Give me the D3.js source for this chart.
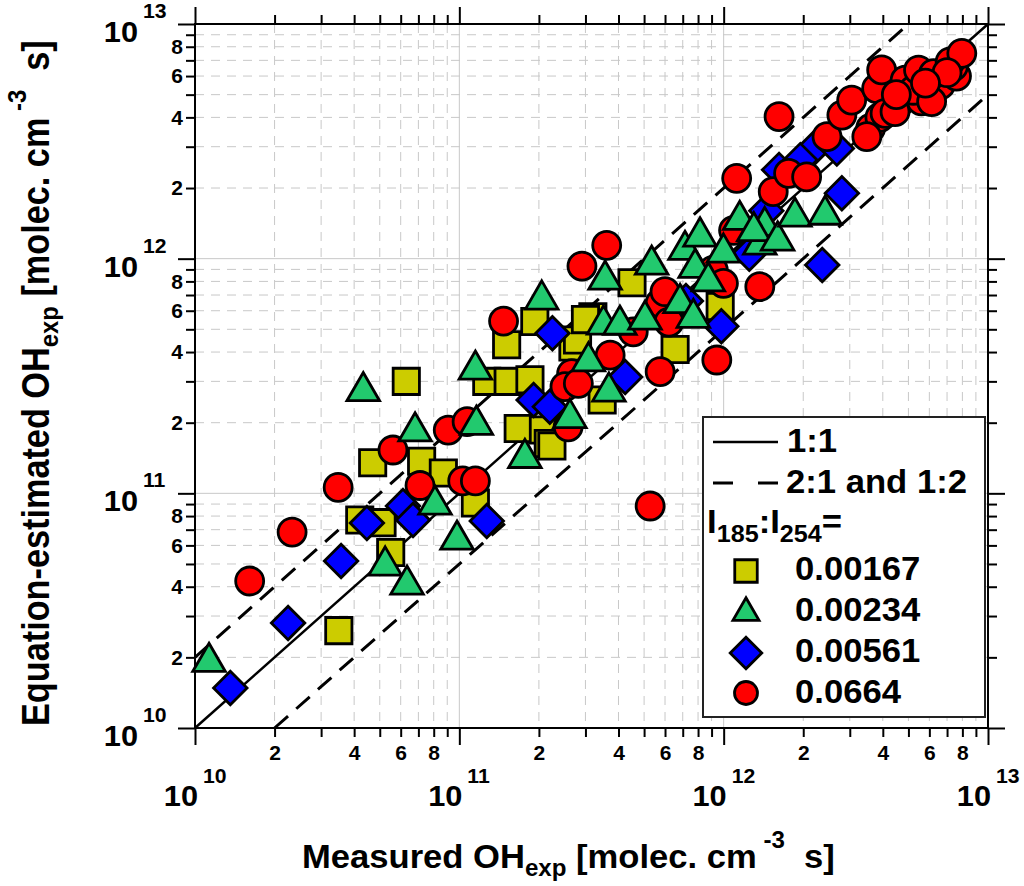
<!DOCTYPE html>
<html>
<head>
<meta charset="utf-8">
<script src="https://cdn.jsdelivr.net/npm/d3@7"></script>
<style>
  body { margin: 0; background: #fff; }
  text { font-family: "Liberation Sans", Arial, sans-serif; font-weight: bold; fill: #000; white-space: pre; }
</style>
</head>
<body>
<div id="chart"></div>
<script>
// Data: [measured OHexp, equation-estimated OHexp], one array per I185:I254 ratio
const seriesLabels = ["0.00167", "0.00234", "0.00561", "0.0664"];

const squareData = [
  [3.5e10, 2.6e10], [4.2e10, 7.7e10], [5.1e10, 7.5e10], [5.5e10, 5.6e10],
  [4.7e10, 1.35e11], [7.2e10, 1.37e11], [8.7e10, 1.22e11], [1.15e11, 9.1e10],
  [6.3e10, 3.0e11], [1.27e11, 3.0e11], [1.53e11, 3.0e11], [1.85e11, 3.05e11],
  [1.51e11, 4.3e11], [1.93e11, 5.4e11], [1.67e11, 1.89e11], [2.08e11, 1.86e11],
  [2.17e11, 1.63e11], [2.24e11, 1.59e11], [2.69e11, 4.2e11], [3.2e11, 5.65e11],
  [2.8e11, 4.5e11], [3.0e11, 5.5e11], [3.47e11, 2.5e11], [4.5e11, 7.9e11],
  [6.55e11, 4.1e11], [9.7e11, 6.25e11]
];

const triangleData = [
  [1.13e10, 2.0e10], [4.33e10, 2.85e11], [5.24e10, 5.15e10], [6.34e10, 4.27e10],
  [6.8e10, 1.92e11], [8.09e10, 9.36e10], [9.8e10, 6.64e10], [1.15e11, 3.52e11],
  [1.16e11, 2.05e11], [1.77e11, 1.48e11], [2.05e11, 7.0e11], [2.62e11, 2.19e11],
  [3.08e11, 3.82e11], [3.68e11, 2.84e11], [3.51e11, 5.48e11], [4.05e11, 5.47e11],
  [3.56e11, 8.51e11], [5.04e11, 5.75e11], [5.34e11, 9.86e11], [6.84e11, 6.77e11],
  [7.68e11, 5.85e11], [7.14e11, 1.14e12], [8.14e11, 1.3e12], [7.8e11, 9.55e11],
  [8.75e11, 8.37e11], [9.98e11, 1.11e12], [1.15e12, 1.53e12], [1.37e12, 1.2e12],
  [1.43e12, 1.44e12], [1.3e12, 1.37e12], [1.6e12, 1.25e12], [1.86e12, 1.58e12],
  [2.42e12, 1.61e12]
];

const diamondData = [
  [1.36e10, 1.48e10], [2.25e10, 2.8e10], [3.57e10, 5.15e10], [4.47e10, 7.47e10],
  [6.12e10, 8.83e10], [6.68e10, 7.7e10], [1.27e11, 7.62e10], [1.91e11, 2.5e11],
  [2.2e11, 2.34e11], [2.25e11, 4.81e11], [4.24e11, 3.13e11], [9.8e11, 5.15e11],
  [7.2e11, 6.6e11], [1.25e12, 1.05e12], [1.45e12, 1.6e12], [2.36e12, 9.4e11],
  [2.8e12, 1.9e12], [2.19e12, 2.95e12], [2.68e12, 2.95e12], [1.62e12, 2.39e12],
  [1.95e12, 2.63e12]
];

const circleData = [
  [1.61e10, 4.23e10], [2.33e10, 6.84e10], [3.48e10, 1.06e11], [5.61e10, 1.53e11],
  [7.1e10, 1.08e11], [1.03e11, 1.13e11], [1.15e11, 1.13e11], [9.08e10, 1.86e11],
  [1.07e11, 2.02e11], [1.47e11, 5.42e11], [2.58e11, 1.92e11], [2.66e11, 3.24e11],
  [2.51e11, 2.85e11], [2.82e11, 2.94e11], [2.91e11, 9.3e11], [3.61e11, 1.14e12],
  [3.72e11, 3.88e11], [4.55e11, 4.88e11], [5.27e11, 8.83e10], [5.75e11, 3.3e11],
  [5.75e11, 6.47e11], [6.0e11, 7.23e11], [6.21e11, 5.37e11], [9.14e11, 8.94e11],
  [9.42e11, 3.7e11], [9.98e11, 7.85e11], [1.09e12, 1.32e12], [1.12e12, 2.2e12],
  [1.37e12, 7.6e11], [1.54e12, 1.93e12], [1.76e12, 2.31e12], [2.06e12, 2.23e12],
  [1.62e12, 4.03e12], [2.46e12, 3.31e12], [2.8e12, 4.09e12], [3.05e12, 4.74e12],
  [3.6e12, 3.6e12], [3.9e12, 4.0e12], [4.3e12, 4.8e12], [4.6e12, 4.6e12],
  [5.6e12, 4.7e12], [6.6e12, 5.5e12], [7.6e12, 6.0e12], [7.4e12, 6.6e12],
  [3.48e12, 3.31e12], [3.79e12, 5.31e12], [3.96e12, 6.37e12], [4.08e12, 4.16e12],
  [4.45e12, 4.23e12], [4.86e12, 5.77e12], [5.22e12, 5.22e12], [5.46e12, 6.36e12],
  [6.12e12, 4.67e12], [6.22e12, 6.15e12], [7.19e12, 6.9e12], [7.96e12, 7.5e12],
  [7.0e12, 6.2e12], [5.8e12, 5.6e12], [4.5e12, 5.0e12]
];

// reference lines y = ratio * x
const ratioLines = [1, 2, 0.5];
const axisDomain = [1e10, 1e13];
const decades = [10, 11, 12, 13];
const labelledMantissas = [2, 4, 6, 8];

// Set up the SVG
const width = 1024;
const height = 886;
const plot = { left: 195, right: 988, top: 24, bottom: 728 };

const svg = d3.select("#chart")
  .append("svg")
  .attr("width", width)
  .attr("height", height);

// Scales
const x = d3.scaleLog().domain(axisDomain).range([plot.left, plot.right]);
const y = d3.scaleLog().domain(axisDomain).range([plot.bottom, plot.top]);

const isDecade = d => Math.abs(Math.log10(d) - Math.round(Math.log10(d))) < 1e-9;
const mantissa = d => Math.round(d / Math.pow(10, Math.floor(Math.log10(d) + 1e-9)));
const allTicks = x.ticks();
const majorTicks = allTicks.filter(isDecade);
const minorTicks = allTicks.filter(d => !isDecade(d));

// Grid
const grid = svg.append("g").attr("stroke", "#c8c8c8").attr("stroke-width", 1);
grid.selectAll(".vmin").data(minorTicks).join("line")
  .attr("x1", d => x(d)).attr("x2", d => x(d))
  .attr("y1", plot.top).attr("y2", plot.bottom)
  .attr("stroke-dasharray", "9,7");
grid.selectAll(".hmin").data(minorTicks).join("line")
  .attr("y1", d => y(d)).attr("y2", d => y(d))
  .attr("x1", plot.left).attr("x2", plot.right)
  .attr("stroke-dasharray", "9,7");
grid.selectAll(".vmaj").data(majorTicks).join("line")
  .attr("x1", d => x(d)).attr("x2", d => x(d))
  .attr("y1", plot.top).attr("y2", plot.bottom);
grid.selectAll(".hmaj").data(majorTicks).join("line")
  .attr("y1", d => y(d)).attr("y2", d => y(d))
  .attr("x1", plot.left).attr("x2", plot.right);

// Axes (ticks outward on all four sides)
const minorFmt = d => labelledMantissas.includes(mantissa(d)) ? mantissa(d) : "";

function styleAxis(g) {
  g.select(".domain").remove();
  g.selectAll("line").attr("stroke", "#000").attr("stroke-width", 2);
  g.selectAll("text").attr("font-size", 21).attr("fill", "#000")
    .style("font-family", "'Liberation Sans', Arial, sans-serif").style("font-weight", "bold");
}

svg.append("g").attr("transform", `translate(0,${plot.bottom})`)
  .call(d3.axisBottom(x).tickValues(minorTicks).tickSize(9).tickPadding(8).tickFormat(minorFmt).tickSizeOuter(0))
  .call(styleAxis);
svg.append("g").attr("transform", `translate(0,${plot.bottom})`)
  .call(d3.axisBottom(x).tickValues(majorTicks).tickSize(17).tickFormat("").tickSizeOuter(0))
  .call(styleAxis);
svg.append("g").attr("transform", `translate(${plot.left},0)`)
  .call(d3.axisLeft(y).tickValues(minorTicks).tickSize(9).tickPadding(3).tickFormat(minorFmt).tickSizeOuter(0))
  .call(styleAxis);
svg.append("g").attr("transform", `translate(${plot.left},0)`)
  .call(d3.axisLeft(y).tickValues(majorTicks).tickSize(17).tickFormat("").tickSizeOuter(0))
  .call(styleAxis);
svg.append("g").attr("transform", `translate(0,${plot.top})`)
  .call(d3.axisTop(x).tickValues(minorTicks).tickSize(9).tickFormat("").tickSizeOuter(0))
  .call(styleAxis);
svg.append("g").attr("transform", `translate(0,${plot.top})`)
  .call(d3.axisTop(x).tickValues(majorTicks).tickSize(17).tickFormat("").tickSizeOuter(0))
  .call(styleAxis);
svg.append("g").attr("transform", `translate(${plot.right},0)`)
  .call(d3.axisRight(y).tickValues(minorTicks).tickSize(9).tickFormat("").tickSizeOuter(0))
  .call(styleAxis);
svg.append("g").attr("transform", `translate(${plot.right},0)`)
  .call(d3.axisRight(y).tickValues(majorTicks).tickSize(17).tickFormat("").tickSizeOuter(0))
  .call(styleAxis);

// Decade labels 10^n
decades.forEach(n => {
  const v = Math.pow(10, n);
  // bottom
  svg.append("text").attr("transform", `translate(${x(v) + 3},806) scale(1.06,1)`)
    .attr("text-anchor", "end").attr("font-size", 29).text("10");
  svg.append("text").attr("transform", `translate(${x(v) + 8},783) scale(1.06,1)`)
    .attr("font-size", 20).text(n);
  // left
  svg.append("text").attr("transform", `translate(138,${y(v) + 18}) scale(1.06,1)`)
    .attr("text-anchor", "end").attr("font-size", 29).text("10");
  svg.append("text").attr("transform", `translate(143,${y(v) - 6}) scale(1.06,1)`)
    .attr("font-size", 20).text(n);
});

// Frame
svg.append("rect")
  .attr("x", plot.left).attr("y", plot.top)
  .attr("width", plot.right - plot.left).attr("height", plot.bottom - plot.top)
  .attr("fill", "none").attr("stroke", "#000").attr("stroke-width", 2);

// 1:1, 2:1 and 1:2 lines
const line = d3.line().x(d => x(d[0])).y(d => y(d[1]));
svg.append("g").selectAll("path").data(ratioLines).join("path")
  .attr("d", r => {
    const x0 = Math.max(axisDomain[0], axisDomain[0] / r);
    const x1 = Math.min(axisDomain[1], axisDomain[1] / r);
    return line([[x0, x0 * r], [x1, x1 * r]]);
  })
  .attr("fill", "none")
  .attr("stroke", "#000")
  .attr("stroke-width", r => r === 1 ? 2.5 : 3)
  .attr("stroke-dasharray", r => r === 1 ? null : "18,11");

// Markers
const markerStroke = 2.8;
const squarePath = d3.symbol().type(d3.symbolSquare).size(690)();
const diamondPath = d3.symbol().type(d3.symbolSquare).size(560)();
const triSize = 460;
const trianglePath = d3.symbol().type(d3.symbolTriangle).size(triSize)();
const triShift = Math.sqrt(triSize / (Math.sqrt(3) * 3)) / 2;

function drawPath(data, path, fill, extra) {
  svg.append("g").selectAll("path").data(data).join("path")
    .attr("d", path)
    .attr("transform", d => `translate(${x(d[0])},${y(d[1]) + (extra.dy || 0)})${extra.rot ? " rotate(45)" : ""}`)
    .attr("fill", fill).attr("stroke", "#000").attr("stroke-width", markerStroke)
    .attr("stroke-linejoin", "miter");
}

drawPath(squareData, squarePath, "#CCCC00", {});
drawPath(diamondData, diamondPath, "#0000FF", { rot: true });
svg.append("g").selectAll("circle").data(circleData).join("circle")
  .attr("cx", d => x(d[0])).attr("cy", d => y(d[1])).attr("r", 14)
  .attr("fill", "#FF0000").attr("stroke", "#000").attr("stroke-width", markerStroke);
drawPath(triangleData, trianglePath, "#22C96E", { dy: triShift });

// Legend
const legend = svg.append("g");
legend.append("rect")
  .attr("x", 703).attr("y", 417).attr("width", 282).attr("height", 300)
  .attr("fill", "#fff").attr("stroke", "#222").attr("stroke-width", 2);
legend.append("line").attr("x1", 713).attr("x2", 778).attr("y1", 442).attr("y2", 442)
  .attr("stroke", "#000").attr("stroke-width", 2.5);
legend.append("text").attr("transform", "translate(787,452) scale(1.05,1)").attr("font-size", 33).text("1:1");
legend.append("line").attr("x1", 713).attr("x2", 778).attr("y1", 483).attr("y2", 483)
  .attr("stroke", "#000").attr("stroke-width", 3).attr("stroke-dasharray", "20,25");
legend.append("text").attr("transform", "translate(786,493) scale(1.05,1)").attr("font-size", 33).text("2:1 and 1:2");

const ratioText = legend.append("text").attr("transform", "translate(707,533) scale(1.05,1)").attr("font-size", 33);
ratioText.append("tspan").text("I");
ratioText.append("tspan").attr("font-size", 24).attr("dy", 9).text("185");
ratioText.append("tspan").attr("dy", -9).text(":I");
ratioText.append("tspan").attr("font-size", 24).attr("dy", 9).text("254");
ratioText.append("tspan").attr("dy", -9).text("=");

const legendRows = [571, 609, 653, 693];
const legendText = [580, 621, 662, 703];
const mx = 746;
legend.append("path").attr("d", d3.symbol().type(d3.symbolSquare).size(506)())
  .attr("transform", `translate(${mx},${legendRows[0]})`)
  .attr("fill", "#CCCC00").attr("stroke", "#000").attr("stroke-width", markerStroke);
legend.append("path").attr("d", d3.symbol().type(d3.symbolTriangle).size(295)())
  .attr("transform", `translate(${mx},${legendRows[1] + 3.8})`)
  .attr("fill", "#22C96E").attr("stroke", "#000").attr("stroke-width", markerStroke);
legend.append("path").attr("d", d3.symbol().type(d3.symbolSquare).size(500)())
  .attr("transform", `translate(${mx},${legendRows[2]}) rotate(45)`)
  .attr("fill", "#0000FF").attr("stroke", "#000").attr("stroke-width", markerStroke);
legend.append("circle").attr("cx", mx).attr("cy", legendRows[3]).attr("r", 11.5)
  .attr("fill", "#FF0000").attr("stroke", "#000").attr("stroke-width", markerStroke);
seriesLabels.forEach((s, i) => {
  legend.append("text").attr("transform", `translate(795,${legendText[i]}) scale(1.05,1)`)
    .attr("font-size", 33).text(s);
});

// Axis titles
const xTitle = svg.append("text").attr("font-size", 33);
xTitle.append("tspan").text("Measured OH");
xTitle.append("tspan").attr("font-size", 23).attr("dy", 8).text("exp");
xTitle.append("tspan").attr("dy", -8).text(" [molec. cm");
xTitle.append("tspan").attr("font-size", 23).attr("dy", -20).text(" -3");
xTitle.append("tspan").attr("dy", 20).text("  s]");
const xLen = xTitle.node().getComputedTextLength();
xTitle.attr("transform", `translate(302,868) scale(${533 / xLen},1)`);

const yTitle = svg.append("text").attr("font-size", 33);
yTitle.append("tspan").text("Equation-estimated OH");
yTitle.append("tspan").attr("font-size", 23).attr("dy", 8).text("exp");
yTitle.append("tspan").attr("dy", -8).text(" [molec. cm");
yTitle.append("tspan").attr("font-size", 23).attr("dy", -20).text(" -3");
yTitle.append("tspan").attr("dy", 20).text("  s]");
const yLen = yTitle.node().getComputedTextLength();
yTitle.attr("transform", `translate(49,726) rotate(-90) scale(${686 / yLen},1.15)`);
</script>
</body>
</html>
